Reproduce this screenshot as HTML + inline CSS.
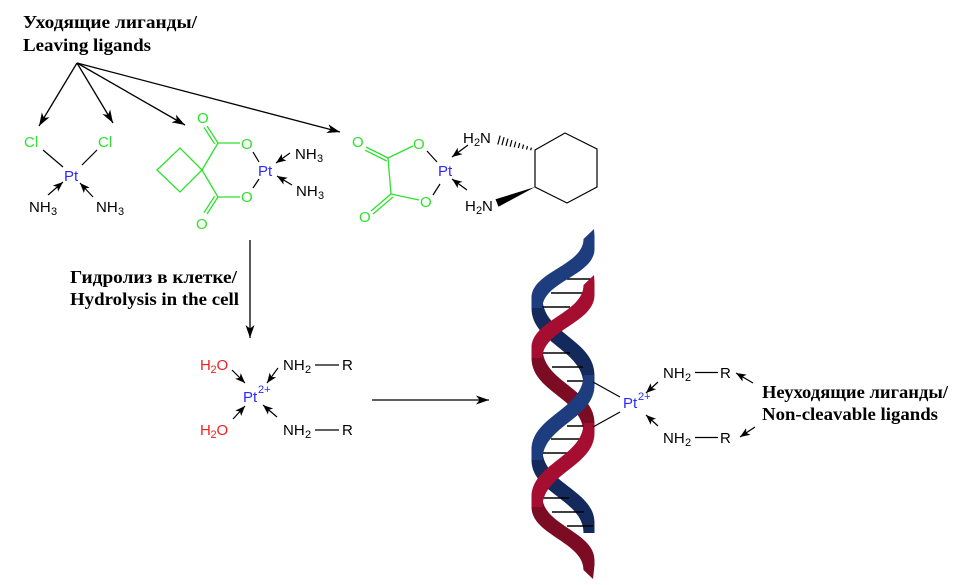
<!DOCTYPE html>
<html><head><meta charset="utf-8"><style>
html,body{margin:0;padding:0;background:#fff;}
svg{display:block;}
.t{font-family:"Liberation Sans",Arial,sans-serif;font-size:15px;}
.s{font-family:"Liberation Sans",Arial,sans-serif;font-size:11px;}
.b{font-family:"Liberation Serif","Times New Roman",serif;font-weight:bold;font-size:18px;}
</style></head><body>
<svg width="971" height="585" viewBox="0 0 971 585" xmlns="http://www.w3.org/2000/svg">
<defs>
<marker id="a" markerUnits="userSpaceOnUse" markerWidth="14" markerHeight="10" refX="13" refY="4.5" orient="auto"><path d="M0,0 L13,4.5 L0,9 L3.5,4.5 Z" fill="#000"/></marker>
<marker id="m" markerUnits="userSpaceOnUse" markerWidth="11" markerHeight="9" refX="10" refY="4" orient="auto"><path d="M0,0 L10,4 L0,8 L2.5,4 Z" fill="#000"/></marker>
</defs>

<!-- Titles -->
<text class="b" x="23" y="28" textLength="174" lengthAdjust="spacingAndGlyphs">Уходящие лиганды/</text>
<text class="b" x="23" y="51" textLength="128" lengthAdjust="spacingAndGlyphs">Leaving ligands</text>
<text class="b" x="70" y="283" textLength="167" lengthAdjust="spacingAndGlyphs">Гидролиз в клетке/</text>
<text class="b" x="70" y="305" textLength="169" lengthAdjust="spacingAndGlyphs">Hydrolysis in the cell</text>
<text class="b" x="762" y="398" textLength="186" lengthAdjust="spacingAndGlyphs">Неуходящие лиганды/</text>
<text class="b" x="762" y="420" textLength="176" lengthAdjust="spacingAndGlyphs">Non-cleavable ligands</text>

<!-- Main arrows -->
<g stroke="#000" stroke-width="1.3" fill="none">
<line x1="77" y1="63" x2="39" y2="126" marker-end="url(#a)"/>
<line x1="77" y1="63" x2="113" y2="123" marker-end="url(#a)"/>
<line x1="77" y1="63" x2="185" y2="125" marker-end="url(#a)"/>
<line x1="77" y1="63" x2="340" y2="132" marker-end="url(#a)"/>
<line x1="250" y1="240" x2="250" y2="338" marker-end="url(#a)"/>
<line x1="372" y1="400" x2="489" y2="400" marker-end="url(#a)"/>
</g>

<!-- small dative arrows -->
<g stroke="#000" stroke-width="1.2" fill="none">
<line x1="48" y1="195" x2="63" y2="182" marker-end="url(#m)"/>
<line x1="93" y1="197" x2="80" y2="183" marker-end="url(#m)"/>
<line x1="290" y1="153" x2="276" y2="163" marker-end="url(#m)"/>
<line x1="292" y1="185" x2="277" y2="176" marker-end="url(#m)"/>
<line x1="468" y1="145" x2="452" y2="157" marker-end="url(#m)"/>
<line x1="467" y1="190" x2="452" y2="179" marker-end="url(#m)"/>
<line x1="232" y1="370" x2="245" y2="383" marker-end="url(#m)"/>
<line x1="278" y1="368" x2="267" y2="383" marker-end="url(#m)"/>
<line x1="233" y1="419" x2="245" y2="406" marker-end="url(#m)"/>
<line x1="277" y1="417" x2="263" y2="405" marker-end="url(#m)"/>
<line x1="658" y1="382" x2="646" y2="393" marker-end="url(#m)"/>
<line x1="658" y1="426" x2="646" y2="415" marker-end="url(#m)"/>
<line x1="753" y1="383" x2="736" y2="373" marker-end="url(#m)"/>
<line x1="755" y1="427" x2="740" y2="437" marker-end="url(#m)"/>
</g>

<!-- Cisplatin -->
<g stroke="#000" stroke-width="1.2">
<line x1="43" y1="150" x2="63" y2="167"/>
<line x1="97" y1="150" x2="82" y2="165"/>
</g>
<text class="t" x="24" y="147" fill="#2ee02e">Cl</text>
<text class="t" x="98" y="147" fill="#2ee02e">Cl</text>
<text class="t" x="64" y="181" fill="#2a2aff">Pt</text>
<text class="t" x="29" y="212">NH</text><text class="s" x="51" y="215">3</text>
<text class="t" x="96" y="212">NH</text><text class="s" x="118" y="215">3</text>

<!-- Carboplatin -->
<g stroke="#2ee02e" stroke-width="1.3" fill="none">
<polygon points="202,170 180,148 157,170 180,192"/>
<line x1="202" y1="170" x2="218" y2="143"/>
<line x1="202" y1="170" x2="218" y2="197"/>
<line x1="218" y1="143" x2="240" y2="143"/>
<line x1="218" y1="197" x2="240" y2="197"/>
<line x1="218" y1="143" x2="207" y2="126"/>
<line x1="214.6" y1="143.8" x2="204" y2="127.4"/>
<line x1="218" y1="197" x2="207" y2="214"/>
<line x1="214.6" y1="196.2" x2="204" y2="212.6"/>
</g>
<g stroke="#000" stroke-width="1.2">
<line x1="253" y1="152" x2="259" y2="162"/>
<line x1="253" y1="188" x2="259" y2="179"/>
</g>
<text class="t" x="197" y="123" fill="#2ee02e">O</text>
<text class="t" x="241" y="149" fill="#2ee02e">O</text>
<text class="t" x="241" y="202" fill="#2ee02e">O</text>
<text class="t" x="196" y="229" fill="#2ee02e">O</text>
<text class="t" x="258" y="176" fill="#2a2aff">Pt</text>
<text class="t" x="295" y="159">NH</text><text class="s" x="317" y="162">3</text>
<text class="t" x="296" y="196">NH</text><text class="s" x="318" y="199">3</text>

<!-- Oxaliplatin -->
<g stroke="#2ee02e" stroke-width="1.3" fill="none">
<line x1="388" y1="158" x2="391" y2="194"/>
<line x1="388" y1="158" x2="413" y2="146"/>
<line x1="391" y1="194" x2="419" y2="200"/>
<line x1="388" y1="158" x2="366" y2="147"/>
<line x1="386.7" y1="161" x2="365" y2="150.2"/>
<line x1="391" y1="194" x2="371" y2="211"/>
<line x1="393" y1="197" x2="373" y2="214"/>
</g>
<g stroke="#000" stroke-width="1.2" fill="none">
<line x1="427" y1="151" x2="437" y2="162"/>
<line x1="433" y1="195" x2="440" y2="184"/>
<polygon points="535,150 565,133 597,149 597,187 567,203 535,187"/>
<line x1="531.37" y1="147.55" x2="530.63" y2="150.25"/>
<line x1="527.48" y1="146.06" x2="526.52" y2="149.54"/>
<line x1="523.58" y1="144.58" x2="522.42" y2="148.82"/>
<line x1="519.69" y1="143.09" x2="518.31" y2="148.11"/>
<line x1="515.8" y1="141.6" x2="514.2" y2="147.4"/>
<line x1="511.9" y1="140.12" x2="510.1" y2="146.68"/>
<line x1="508.0" y1="138.64" x2="506.0" y2="145.96"/>
<line x1="504.1" y1="137.15" x2="501.9" y2="145.25"/>
<line x1="500.2" y1="135.67" x2="497.8" y2="144.53"/>
</g>
<polygon points="535,187 498.5,206.7 495.5,199.3" fill="#000"/>
<text class="t" x="352" y="147" fill="#2ee02e">O</text>
<text class="t" x="413" y="149" fill="#2ee02e">O</text>
<text class="t" x="420" y="207" fill="#2ee02e">O</text>
<text class="t" x="359" y="222" fill="#2ee02e">O</text>
<text class="t" x="438" y="176" fill="#2a2aff">Pt</text>
<text class="t" x="463" y="143">H</text><text class="s" x="474" y="146">2</text><text class="t" x="480" y="143">N</text>
<text class="t" x="465" y="211">H</text><text class="s" x="476" y="214">2</text><text class="t" x="482" y="211">N</text>

<!-- Aquo complex -->
<text class="t" x="200" y="370" fill="#ee2222">H</text><text class="s" x="210.5" y="373" fill="#ee2222">2</text><text class="t" x="216.5" y="370" fill="#ee2222">O</text>
<text class="t" x="200" y="435" fill="#ee2222">H</text><text class="s" x="210.5" y="438" fill="#ee2222">2</text><text class="t" x="216.5" y="435" fill="#ee2222">O</text>
<text class="t" x="243" y="402" fill="#2a2aff">Pt</text><text class="s" x="258" y="393" fill="#2a2aff">2+</text>
<text class="t" x="283" y="370">NH</text><text class="s" x="305" y="373">2</text>
<text class="t" x="342" y="370">R</text>
<text class="t" x="283" y="435">NH</text><text class="s" x="305" y="438">2</text>
<text class="t" x="342" y="435">R</text>
<g stroke="#000" stroke-width="1.2">
<line x1="315" y1="365" x2="339" y2="365"/>
<line x1="315" y1="430" x2="339" y2="430"/>
</g>

<!-- DNA: back segments -->
<g>
<path fill="#142a5c" d="M 531.5,298 L 531.5,308 C 531.5,343 583.5,350 583.5,385 L 594.5,385 L 594.5,375 C 594.5,340 542.5,333 542.5,298 Z"/>
<path fill="#142a5c" d="M 531.5,450 L 531.5,460 C 531.5,493 583.5,500 583.5,533 L 594.5,533 L 594.5,523 C 594.5,490 542.5,483 542.5,450 Z"/>
<path fill="#7c0b24" d="M 531.5,348 L 531.5,358 C 531.5,392 583.5,399 583.5,433 L 594.5,433 L 594.5,423 C 594.5,389 542.5,382 542.5,348 Z"/>
<path fill="#7c0b24" d="M 531.5,497 L 531.5,507 C 531.5,535 583.5,542 583.5,570 L 593,579 L 594.5,565 L 594.5,560 C 594.5,532 542.5,525 542.5,497 Z"/>
</g>
<!-- base pairs -->
<g stroke="#000" stroke-width="1.5">
<line x1="567" y1="279" x2="592" y2="279"/>
<line x1="551" y1="293" x2="584" y2="293"/>
<line x1="537" y1="307" x2="570" y2="307"/>
<line x1="537" y1="353" x2="570" y2="353"/>
<line x1="552" y1="367" x2="583" y2="367"/>
<line x1="567" y1="381" x2="593" y2="381"/>
<line x1="567" y1="426" x2="593" y2="426"/>
<line x1="551" y1="439" x2="584" y2="439"/>
<line x1="537" y1="453" x2="570" y2="453"/>
<line x1="537" y1="498" x2="569" y2="498"/>
<line x1="552" y1="512" x2="584" y2="512"/>
<line x1="567" y1="526" x2="593" y2="526"/>
</g>
<!-- front segments -->
<g>
<path fill="#1d3d7e" d="M 594,229 L 583.5,239 C 583.5,265.5 531.5,271.5 531.5,298 L 531.5,308 L 542.5,308 C 542.5,281.5 594.5,275.5 594.5,249 L 594.5,236 Z"/>
<path fill="#1d3d7e" d="M 583.5,375 C 583.5,409 531.5,416 531.5,450 L 531.5,460 L 542.5,460 C 542.5,426 594.5,419 594.5,385 L 594.5,375 Z"/>
<path fill="#a50e30" d="M 594,275 L 583.5,285 C 583.5,313 531.5,320 531.5,348 L 531.5,358 L 542.5,358 C 542.5,330 594.5,323 594.5,295 L 594.5,282 Z"/>
<path fill="#a50e30" d="M 583.5,423 C 583.5,456 531.5,464 531.5,497 L 531.5,507 L 542.5,507 C 542.5,474 594.5,466 594.5,433 L 594.5,423 Z"/>
</g>

<!-- Pt on DNA -->
<g stroke="#000" stroke-width="1.2">
<line x1="593" y1="382" x2="620" y2="397"/>
<line x1="593" y1="427" x2="620" y2="412"/>
<line x1="695" y1="372.5" x2="718" y2="372.5"/>
<line x1="695" y1="437.5" x2="718" y2="437.5"/>
</g>
<text class="t" x="623" y="408" fill="#2a2aff">Pt</text><text class="s" x="638" y="400" fill="#2a2aff">2+</text>
<text class="t" x="663" y="378">NH</text><text class="s" x="685" y="381">2</text>
<text class="t" x="720" y="378">R</text>
<text class="t" x="663" y="443">NH</text><text class="s" x="685" y="446">2</text>
<text class="t" x="720" y="443">R</text>
</svg>
</body></html>
